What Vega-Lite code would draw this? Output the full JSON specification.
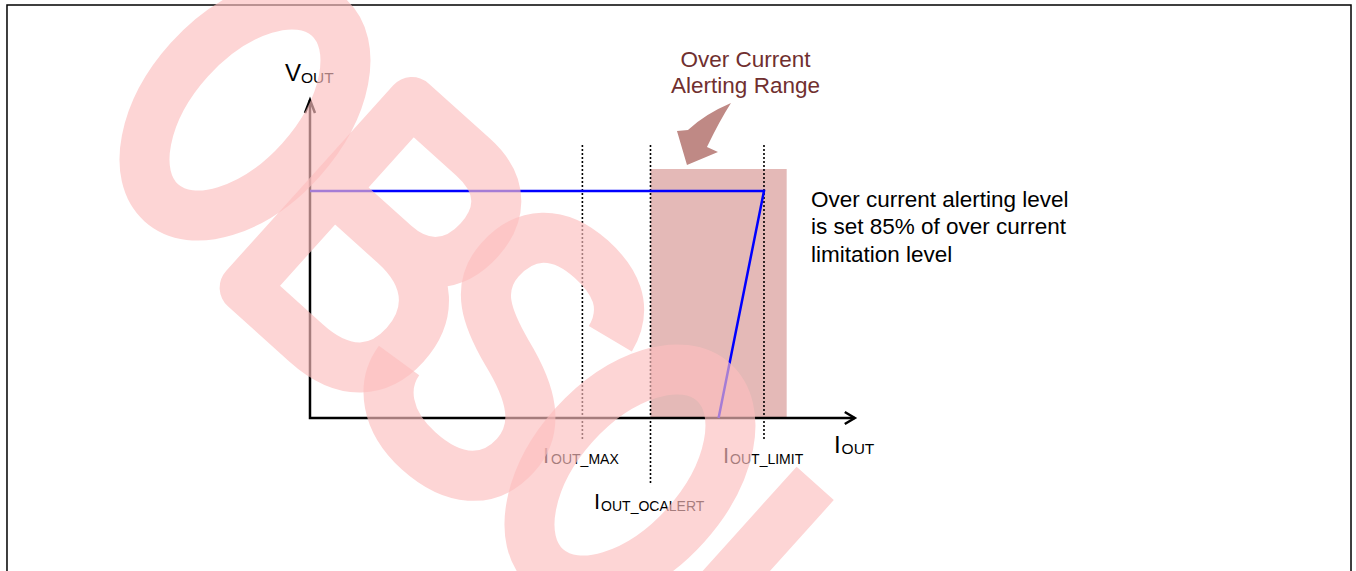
{
  "$schema": "https://vega.github.io/schema/vega-lite/v6.json",
  "width": 1356,
  "height": 571,
  "padding": 0,
  "autosize": {"type": "none"},
  "background": "#ffffff",
  "config": {"view": {"stroke": null}},
  "layer": [
    {
      "data": {"values": [{"x": -66.74, "x2": 229.3, "y": 181.94, "y2": -80}]},
      "mark": {"type": "rect", "filled": false, "stroke": "#000000", "strokeWidth": 1.5, "clip": true},
      "encoding": {
        "x": {"field": "x", "type": "quantitative", "scale": {"domain": [-68.28, 230.4], "nice": false, "zero": false}, "axis": null},
        "x2": {"field": "x2"},
        "y": {"field": "y", "type": "quantitative", "scale": {"domain": [-67.4, 184.14], "nice": false, "zero": false}, "axis": null},
        "y2": {"field": "y2"}
      }
    },
    {
      "data": {"values": [{"x": 75, "x2": 105, "y": 109.7, "y2": 0}]},
      "mark": {"type": "rect", "fill": "#e4b9b7"},
      "encoding": {
        "x": {"field": "x", "type": "quantitative", "scale": {"domain": [-68.28, 230.4], "nice": false, "zero": false}, "axis": null},
        "x2": {"field": "x2"},
        "y": {"field": "y", "type": "quantitative", "scale": {"domain": [-67.4, 184.14], "nice": false, "zero": false}, "axis": null},
        "y2": {"field": "y2"}
      }
    },
    {
      "data": {"values": [
        {"x": 60, "y": 120.26, "y2": -9.7},
        {"x": 75, "y": 120.26, "y2": -28.6},
        {"x": 100, "y": 120.26, "y2": -9.7}
      ]},
      "mark": {"type": "rule", "stroke": "#000000", "strokeWidth": 1.6, "strokeDash": [2, 2]},
      "encoding": {
        "x": {"field": "x", "type": "quantitative", "scale": {"domain": [-68.28, 230.4], "nice": false, "zero": false}, "axis": null},
        "y": {"field": "y", "type": "quantitative", "scale": {"domain": [-67.4, 184.14], "nice": false, "zero": false}, "axis": null},
        "y2": {"field": "y2"}
      }
    },
    {
      "data": {"values": [
        {"seg": "axes", "o": 1, "x": 0, "y": 140.09},
        {"seg": "axes", "o": 2, "x": 0, "y": 0},
        {"seg": "axes", "o": 3, "x": 120, "y": 0},
        {"seg": "yarrow", "o": 1, "x": -1.1, "y": 134.36},
        {"seg": "yarrow", "o": 2, "x": 0, "y": 140.09},
        {"seg": "yarrow", "o": 3, "x": 1.1, "y": 134.36},
        {"seg": "xarrow", "o": 1, "x": 117.8, "y": 2.64},
        {"seg": "xarrow", "o": 2, "x": 120, "y": 0},
        {"seg": "xarrow", "o": 3, "x": 117.8, "y": -2.64}
      ]},
      "mark": {"type": "line", "stroke": "#000000", "strokeWidth": 2.5, "strokeJoin": "miter", "strokeCap": "butt"},
      "encoding": {
        "x": {"field": "x", "type": "quantitative", "scale": {"domain": [-68.28, 230.4], "nice": false, "zero": false}, "axis": null},
        "y": {"field": "y", "type": "quantitative", "scale": {"domain": [-67.4, 184.14], "nice": false, "zero": false}, "axis": null},
        "detail": {"field": "seg"},
        "order": {"field": "o"}
      }
    },
    {
      "data": {"values": [
        {"o": 1, "x": 0, "y": 100},
        {"o": 2, "x": 100, "y": 100},
        {"o": 3, "x": 90, "y": 0}
      ]},
      "mark": {"type": "line", "stroke": "#0000ff", "strokeWidth": 2.5, "strokeJoin": "miter"},
      "encoding": {
        "x": {"field": "x", "type": "quantitative", "scale": {"domain": [-68.28, 230.4], "nice": false, "zero": false}, "axis": null},
        "y": {"field": "y", "type": "quantitative", "scale": {"domain": [-67.4, 184.14], "nice": false, "zero": false}, "axis": null},
        "order": {"field": "o"}
      }
    },
    {
      "data": {"values": [{"x": 85.9, "y": 124.67}]},
      "mark": {"type": "point", "filled": true, "fill": "#bf8985", "stroke": null, "opacity": 1, "size": 10000,
        "shape": "M0.62,-0.64 Q0.1,-0.42 -0.24,-0.1 L-0.46,-0.08 L-0.26,0.6 L0.36,0.34 L0.14,0.24 Q0.4,-0.3 0.62,-0.64 Z"},
      "encoding": {
        "x": {"field": "x", "type": "quantitative", "scale": {"domain": [-68.28, 230.4], "nice": false, "zero": false}, "axis": null},
        "y": {"field": "y", "type": "quantitative", "scale": {"domain": [-67.4, 184.14], "nice": false, "zero": false}, "axis": null}
      }
    },
    {
      "data": {"values": [
        {"t": "Over Current", "x": 95.93, "y": 154.76},
        {"t": "Alerting Range", "x": 95.93, "y": 143.04}
      ]},
      "mark": {"type": "text", "font": "Liberation Sans", "fontSize": 22.5, "fill": "#702f2f", "align": "center", "baseline": "alphabetic"},
      "encoding": {
        "x": {"field": "x", "type": "quantitative", "scale": {"domain": [-68.28, 230.4], "nice": false, "zero": false}, "axis": null},
        "y": {"field": "y", "type": "quantitative", "scale": {"domain": [-67.4, 184.14], "nice": false, "zero": false}, "axis": null},
        "text": {"field": "t"}
      }
    },
    {
      "data": {"values": [
        {"t": "Over current alerting level", "x": 110.35, "y": 93.17},
        {"t": "is set 85% of over current", "x": 110.35, "y": 81.06},
        {"t": "limitation level", "x": 110.35, "y": 68.94}
      ]},
      "mark": {"type": "text", "font": "Liberation Sans", "fontSize": 22.5, "fill": "#000000", "align": "left", "baseline": "alphabetic"},
      "encoding": {
        "x": {"field": "x", "type": "quantitative", "scale": {"domain": [-68.28, 230.4], "nice": false, "zero": false}, "axis": null},
        "y": {"field": "y", "type": "quantitative", "scale": {"domain": [-67.4, 184.14], "nice": false, "zero": false}, "axis": null},
        "text": {"field": "t"}
      }
    },
    {
      "data": {"values": [
        {"t": "V", "x": -5.51, "y": 148.46},
        {"t": "I", "x": 115.4, "y": -15.42}
      ]},
      "mark": {"type": "text", "font": "Liberation Sans", "fontSize": 24, "fill": "#000000", "align": "left", "baseline": "alphabetic"},
      "encoding": {
        "x": {"field": "x", "type": "quantitative", "scale": {"domain": [-68.28, 230.4], "nice": false, "zero": false}, "axis": null},
        "y": {"field": "y", "type": "quantitative", "scale": {"domain": [-67.4, 184.14], "nice": false, "zero": false}, "axis": null},
        "text": {"field": "t"}
      }
    },
    {
      "data": {"values": [
        {"t": "OUT", "x": -1.98, "y": 147.58},
        {"t": "OUT", "x": 117.1, "y": -15.86}
      ]},
      "mark": {"type": "text", "font": "Liberation Sans", "fontSize": 15.5, "fill": "#000000", "align": "left", "baseline": "alphabetic"},
      "encoding": {
        "x": {"field": "x", "type": "quantitative", "scale": {"domain": [-68.28, 230.4], "nice": false, "zero": false}, "axis": null},
        "y": {"field": "y", "type": "quantitative", "scale": {"domain": [-67.4, 184.14], "nice": false, "zero": false}, "axis": null},
        "text": {"field": "t"}
      }
    },
    {
      "data": {"values": [
        {"t": "I", "x": 51.32, "y": -19.82},
        {"t": "I", "x": 62.55, "y": -40.09},
        {"t": "I", "x": 90.97, "y": -19.82}
      ]},
      "mark": {"type": "text", "font": "Liberation Sans", "fontSize": 22, "fill": "#000000", "align": "left", "baseline": "alphabetic"},
      "encoding": {
        "x": {"field": "x", "type": "quantitative", "scale": {"domain": [-68.28, 230.4], "nice": false, "zero": false}, "axis": null},
        "y": {"field": "y", "type": "quantitative", "scale": {"domain": [-67.4, 184.14], "nice": false, "zero": false}, "axis": null},
        "text": {"field": "t"}
      }
    },
    {
      "data": {"values": [
        {"t": "OUT_MAX", "x": 53.1, "y": -20.48},
        {"t": "OUT_OCALERT", "x": 64.12, "y": -40.75},
        {"t": "OUT_LIMIT", "x": 92.53, "y": -20.48}
      ]},
      "mark": {"type": "text", "font": "Liberation Sans", "fontSize": 14, "fill": "#000000", "align": "left", "baseline": "alphabetic"},
      "encoding": {
        "x": {"field": "x", "type": "quantitative", "scale": {"domain": [-68.28, 230.4], "nice": false, "zero": false}, "axis": null},
        "y": {"field": "y", "type": "quantitative", "scale": {"domain": [-67.4, 184.14], "nice": false, "zero": false}, "axis": null},
        "text": {"field": "t"}
      }
    },
    {
      "data": {"values": [
        {"letter": "O", "x": -14.32, "y": 135.68},
        {"letter": "B", "x": 16.3, "y": 76.21},
        {"letter": "S", "x": 42.95, "y": 27.75},
        {"letter": "O", "x": 70.48, "y": -25.11},
        {"letter": "L", "x": 100.22, "y": -97.8}
      ]},
      "mark": {"type": "point", "filled": false, "stroke": "#fdbfbf", "strokeWidth": 50, "opacity": 0.65, "size": 90000, "angle": 42, "strokeCap": "butt", "strokeJoin": "round", "clip": true},
      "encoding": {
        "x": {"field": "x", "type": "quantitative", "scale": {"domain": [-68.28, 230.4], "nice": false, "zero": false}, "axis": null},
        "y": {"field": "y", "type": "quantitative", "scale": {"domain": [-67.4, 184.14], "nice": false, "zero": false}, "axis": null},
        "shape": {"field": "letter", "type": "nominal", "legend": null, "scale": {"domain": ["O", "B", "S", "L"], "range": [
          "M-0.5,0 A0.5,0.833 0 1,1 0.5,0 A0.5,0.833 0 1,1 -0.5,0 Z",
          "M-0.5,-0.833 L0.05,-0.833 C0.35,-0.833 0.45,-0.65 0.45,-0.45 C0.45,-0.2 0.3,-0.05 0.05,-0.05 C0.4,-0.05 0.55,0.15 0.55,0.4 C0.55,0.65 0.4,0.833 0.05,0.833 L-0.5,0.833 Z M-0.5,-0.05 L0.05,-0.05",
          "M0.45,-0.55 C0.4,-0.8 0.2,-0.86 0,-0.86 C-0.3,-0.86 -0.45,-0.7 -0.45,-0.45 C-0.45,-0.2 -0.25,-0.1 0,-0.02 C0.3,0.07 0.5,0.2 0.5,0.45 C0.5,0.72 0.3,0.86 0,0.86 C-0.3,0.86 -0.48,0.7 -0.5,0.5",
          "M-0.45,-1 L-0.45,0.833 L0.5,0.833"
        ]}}
      }
    }
  ]
}
